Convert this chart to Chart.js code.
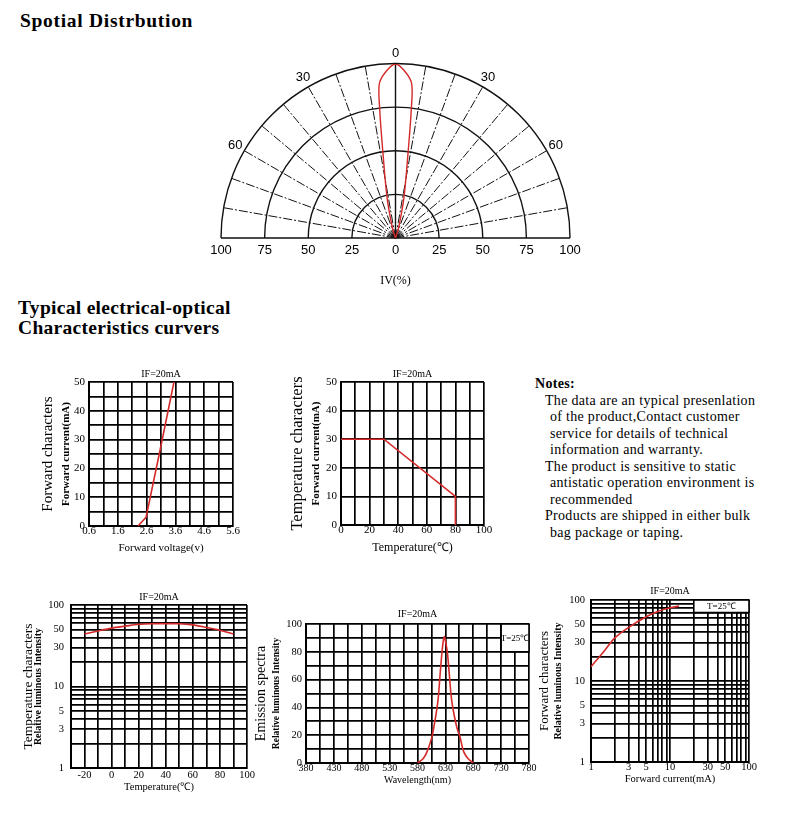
<!DOCTYPE html>
<html>
<head>
<meta charset="utf-8">
<script src="https://cdn.jsdelivr.net/npm/chart.js@4.4.1/dist/chart.umd.min.js"></script>
<style>
  body { margin: 0; background: #fff; width: 790px; height: 818px; position: relative; overflow: hidden;
         font-family: 'Liberation Serif', 'Times New Roman', serif; color: #000; }
  canvas { position: absolute; }
  .head { position: absolute; font-weight: bold; white-space: nowrap; }
  #notes { position: absolute; left: 535px; top: 376px; font-size: 14px; line-height: 16.5px; letter-spacing: 0.3px; white-space: nowrap; }
</style>
</head>
<body>
<div class="head" style="left:20px;top:11px;font-size:19.5px;line-height:20px;letter-spacing:0.7px">Spotial Distrbution</div>
<div class="head" style="left:18px;top:298px;font-size:19.5px;line-height:20px;letter-spacing:0.3px">Typical electrical-optical<br>Characteristics curvers</div>

<div id="notes">
  <div style="font-weight:bold">Notes:</div>
  <div style="padding-left:10px">The data are an typical presenlation</div>
  <div style="padding-left:15px">of the product,Contact customer</div>
  <div style="padding-left:15px">service for details of technical</div>
  <div style="padding-left:15px">information and warranty.</div>
  <div style="padding-left:10px">The product is sensitive to static</div>
  <div style="padding-left:15px">antistatic operation environment is</div>
  <div style="padding-left:15px">recommended</div>
  <div style="padding-left:10px">Products are shipped in either bulk</div>
  <div style="padding-left:15px">bag package or taping.</div>
</div>

<canvas id="polar"></canvas>
<canvas id="fwdVolt"></canvas>
<canvas id="derate"></canvas>
<canvas id="lumTemp"></canvas>
<canvas id="spectrum"></canvas>
<canvas id="lumCurrent"></canvas>

<script>
"use strict";

// Spatial distribution (angle in degrees, relative intensity %)
const polarAngles = [0, 3.4, 6, 7, 8.4, 11.7, 17, 25];
const polarIntensity = [100, 95.6, 89, 74, 49, 24, 6, 0];
const polarRings = [25, 50, 75, 100];
const polarSpokes = [10, 20, 30, 40, 50, 60, 70, 80];
const polarAngleLabels = [0, 30, 60];

// Forward voltage vs forward current
const fwdVoltage = [2.3, 2.58, 3.04, 3.55];
const fwdCurrent = [0, 3, 25, 50];
const fwdVoltGrid = [0.6, 1.1, 1.6, 2.1, 2.6, 3.1, 3.6, 4.1, 4.6, 5.1, 5.6];
const fwdVoltLabels = [0.6, 1.6, 2.6, 3.6, 4.6, 5.6];
const fwdCurrGrid = [0, 5, 10, 15, 20, 25, 30, 35, 40, 45, 50];
const fwdCurrLabels = [0, 10, 20, 30, 40, 50];

// Ambient temperature vs max forward current
const derateTemp = [0, 30, 80, 80];
const derateCurrent = [30, 30, 10, 0];
const derateTempGrid = [0, 10, 20, 30, 40, 50, 60, 70, 80, 90, 100];
const derateTempLabels = [0, 20, 40, 60, 80, 100];
const derateCurrGrid = [0, 10, 20, 30, 40, 50];

// Temperature vs relative luminous intensity
const lumTemp = [-20, -10, 0, 10, 20, 30, 40, 50, 60, 70, 80, 90];
const lumTempIntensity = [44, 48, 52, 55, 58, 59, 59, 59, 57, 53, 49, 44];
const lumTempGrid = [-30, -20, -10, 0, 10, 20, 30, 40, 50, 60, 70, 80, 90, 100];
const lumTempLabels = [-20, 0, 20, 40, 60, 80, 100];
const logGrid = [1, 2, 3, 4, 5, 6, 7, 8, 9, 10, 20, 30, 40, 50, 60, 70, 80, 90, 100];
const logLabels = [1, 3, 5, 10, 30, 50, 100];

// Emission spectrum
const spectrumWave = [580, 590, 597, 606, 612, 617, 621, 625, 628, 631, 634, 637, 641, 646, 651, 656, 663, 671, 680];
const spectrumIntensity = [0, 3, 8, 19, 32, 46, 66, 84, 91, 86, 78, 64, 46, 34, 25, 19, 8, 3, 0];
const waveGrid = [380, 405, 430, 455, 480, 505, 530, 555, 580, 605, 630, 655, 680, 705, 730, 755, 780];
const waveLabels = [380, 430, 480, 530, 580, 630, 680, 730, 780];
const relGrid = [0, 10, 20, 30, 40, 50, 60, 70, 80, 90, 100];
const relLabels = [0, 20, 40, 60, 80, 100];

// Forward current vs relative luminous intensity
const ifCurrent = [1, 1.5, 2, 3, 5, 7, 10, 13];
const ifIntensity = [15, 24, 34, 46, 62, 72, 80, 84];

const SERIF = "'Liberation Serif', 'Times New Roman', serif";
const SANS = "'Liberation Sans', Arial, sans-serif";
const RED = "#d42a2a";

Chart.defaults.color = "#000";
Chart.defaults.font.family = SERIF;

function place(id, box) {
  const c = document.getElementById(id);
  c.style.left = box[0] + "px";
  c.style.top = box[1] + "px";
  c.width = box[2];
  c.height = box[3];
  c.style.width = box[2] + "px";
  c.style.height = box[3] + "px";
  return c;
}

function fixSize(prop, v) {
  return (s) => {
    s[prop] = v;
    s.paddingLeft = s.paddingRight = s.paddingTop = s.paddingBottom = 0;
  };
}

function valueAxis(a, position) {
  const horiz = position === "bottom";
  return {
    type: a.type || "linear",
    position,
    min: a.min,
    max: a.max,
    afterBuildTicks: (s) => { s.ticks = a.grid.map((v) => ({ value: v })); },
    afterFit: fixSize(horiz ? "height" : "width", a.size),
    grid: { color: "#000", lineWidth: 1.7, drawTicks: false },
    border: { color: "#000", width: 2 },
    ticks: {
      autoSkip: false,
      maxRotation: 0,
      padding: a.tickPad,
      color: "#000",
      font: { family: SERIF, size: a.tickSize, lineHeight: 1 },
      callback: (v) => (a.labels.includes(v) ? String(v) : ""),
    },
    title: {
      display: true,
      text: a.title,
      color: "#000",
      font: { family: SERIF, size: a.titleSize, weight: horiz ? "normal" : "bold" },
      padding: horiz ? { top: 0, bottom: a.titlePad } : { top: a.titlePad, bottom: 0 },
    },
  };
}

function titleAxis(t, position) {
  return {
    type: "linear",
    position,
    weight: 1,
    grid: { display: false, drawTicks: false },
    border: { display: false },
    ticks: { display: false },
    afterFit: fixSize(position === "top" ? "height" : "width", t.size),
    title: {
      display: true,
      text: t.text,
      color: "#000",
      font: { family: SERIF, size: t.fontSize },
      padding: { top: t.pad, bottom: 0 },
    },
  };
}

function curveChart(s) {
  return new Chart(place(s.id, s.box), {
    type: "scatter",
    data: {
      datasets: [{
        data: s.xs.map((v, i) => ({ x: v, y: s.ys[i] })),
        showLine: true,
        borderColor: RED,
        borderWidth: 1.6,
        pointRadius: 0,
        tension: s.tension || 0,
      }],
    },
    options: {
      responsive: false,
      animation: false,
      layout: { padding: { left: 0, top: 0, bottom: 0, right: s.rightPad } },
      plugins: Object.assign({ legend: { display: false }, tooltip: { enabled: false } }, s.pluginOpts || {}),
      scales: {
        x: valueAxis(s.x, "bottom"),
        y: valueAxis(s.y, "left"),
        xT: titleAxis(s.top, "top"),
        yT: titleAxis(s.outer, "left"),
      },
    },
    plugins: s.plugins || [],
  });
}

// white "T=25℃" box sitting on the grid
const tempBox = {
  id: "tempBox",
  beforeDatasetsDraw(chart, args, opts) {
    const { ctx, scales: { x, y } } = chart;
    const l = x.getPixelForValue(opts.x[0]), r = x.getPixelForValue(opts.x[1]);
    const t = y.getPixelForValue(opts.y[1]), b = y.getPixelForValue(opts.y[0]);
    ctx.save();
    ctx.fillStyle = "#fff";
    ctx.fillRect(l, t, r - l, b - t);
    ctx.strokeStyle = "#000";
    ctx.lineWidth = 1.6;
    ctx.strokeRect(l, t, r - l, b - t);
    ctx.fillStyle = "#000";
    ctx.font = "9px " + SERIF;
    ctx.textAlign = "center";
    ctx.textBaseline = "middle";
    ctx.fillText(opts.text, (l + r) / 2, (t + b) / 2 + 0.5);
    ctx.restore();
  },
};

// half-circle polar grid
const polarGrid = {
  id: "polarGrid",
  beforeDatasetsDraw(chart) {
    const { ctx, scales: { x, y } } = chart;
    const cx = x.getPixelForValue(0), cy = y.getPixelForValue(0);
    const unit = (x.getPixelForValue(100) - cx) / 100;
    const rMax = polarRings[polarRings.length - 1] * unit;
    ctx.save();
    ctx.strokeStyle = "#111";
    ctx.lineWidth = 1.4;
    polarRings.forEach((r) => {
      ctx.beginPath();
      ctx.arc(cx, cy, r * unit, Math.PI, 2 * Math.PI);
      ctx.stroke();
    });
    ctx.beginPath();
    ctx.moveTo(cx - rMax, cy);
    ctx.lineTo(cx + rMax, cy);
    ctx.moveTo(cx, cy);
    ctx.lineTo(cx, cy - rMax);
    ctx.stroke();
    ctx.lineWidth = 1;
    ctx.setLineDash([9, 2, 2, 2]);
    polarSpokes.forEach((a) => [-a, a].forEach((d) => {
      const t = d * Math.PI / 180;
      ctx.beginPath();
      ctx.moveTo(cx, cy);
      ctx.lineTo(cx + rMax * Math.sin(t), cy - rMax * Math.cos(t));
      ctx.stroke();
    }));
    ctx.setLineDash([]);
    ctx.fillStyle = "#000";
    ctx.font = "13px " + SANS;
    ctx.textAlign = "center";
    ctx.textBaseline = "middle";
    const rl = 106 * unit;
    polarAngleLabels.forEach((a) => {
      const sides = a === 0 ? [0] : [-a, a];
      sides.forEach((d) => {
        const t = d * Math.PI / 180;
        ctx.fillText(String(a), cx + rl * Math.sin(t), cy - rl * Math.cos(t));
      });
    });
    ctx.restore();
  },
};

const polarPoints = [];
for (let i = polarAngles.length - 1; i >= 0; i--) {
  const t = -polarAngles[i] * Math.PI / 180;
  polarPoints.push({ x: polarIntensity[i] * Math.sin(t), y: polarIntensity[i] * Math.cos(t) });
}
for (let i = 1; i < polarAngles.length; i++) {
  const t = polarAngles[i] * Math.PI / 180;
  polarPoints.push({ x: polarIntensity[i] * Math.sin(t), y: polarIntensity[i] * Math.cos(t) });
}

new Chart(place("polar", [190, 30, 410, 270]), {
  type: "scatter",
  data: {
    datasets: [{
      data: polarPoints,
      showLine: true,
      borderColor: RED,
      borderWidth: 1.4,
      pointRadius: 0,
      tension: 0.3,
    }],
  },
  options: {
    responsive: false,
    animation: false,
    layout: { padding: { left: 31, right: 30, top: 34, bottom: 0 } },
    plugins: { legend: { display: false }, tooltip: { enabled: false } },
    scales: {
      x: {
        type: "linear",
        min: -100,
        max: 100,
        grid: { display: false, drawTicks: false },
        border: { display: false },
        afterFit: fixSize("height", 62),
        ticks: {
          stepSize: 25,
          padding: 5.5,
          color: "#000",
          font: { family: SANS, size: 13, lineHeight: 1 },
          callback: (v) => String(Math.abs(v)),
        },
        title: {
          display: true,
          text: "IV(%)",
          color: "#000",
          font: { family: SERIF, size: 12 },
          padding: { top: 0, bottom: 11.8 },
        },
      },
      y: { type: "linear", min: 0, max: 100, display: false },
    },
  },
  plugins: [polarGrid],
});

curveChart({
  id: "fwdVolt",
  box: [36, 364, 209, 194],
  rightPad: 12,
  xs: fwdVoltage,
  ys: fwdCurrent,
  outer: { text: "Forward characters", fontSize: 15, size: 20, pad: 3 },
  top: { text: "IF=20mA", fontSize: 10, size: 18, pad: 4 },
  x: { min: 0.6, max: 5.6, grid: fwdVoltGrid, labels: fwdVoltLabels, size: 32, tickPad: 0, tickSize: 11,
       title: "Forward voltage(v)", titleSize: 11, titlePad: 3.4 },
  y: { min: 0, max: 50, grid: fwdCurrGrid, labels: fwdCurrLabels, size: 33, tickPad: 4, tickSize: 11,
       title: "Forward current(mA)", titleSize: 11, titlePad: 3.9 },
});

curveChart({
  id: "derate",
  box: [286, 364, 210, 193],
  rightPad: 12,
  xs: derateTemp,
  ys: derateCurrent,
  outer: { text: "Temperature characters", fontSize: 16.5, size: 20, pad: 2.1 },
  top: { text: "IF=20mA", fontSize: 10, size: 18, pad: 4 },
  x: { min: 0, max: 100, grid: derateTempGrid, labels: derateTempLabels, size: 32, tickPad: 0, tickSize: 11,
       title: "Temperature(℃)", titleSize: 12, titlePad: 2.1 },
  y: { min: 0, max: 50, grid: derateCurrGrid, labels: derateCurrGrid, size: 35, tickPad: 4, tickSize: 11,
       title: "Forward current(mA)", titleSize: 11, titlePad: 3.1 },
});

curveChart({
  id: "lumTemp",
  box: [18, 589, 241, 208],
  rightPad: 12,
  xs: lumTemp,
  ys: lumTempIntensity,
  tension: 0.3,
  outer: { text: "Temperature characters", fontSize: 13.5, size: 14, pad: 2.2 },
  top: { text: "IF=20mA", fontSize: 10, size: 16, pad: 2.3 },
  x: { min: -30, max: 100, grid: lumTempGrid, labels: lumTempLabels, size: 29, tickPad: 2, tickSize: 10.5,
       title: "Temperature(℃)", titleSize: 10.5, titlePad: 3.7 },
  y: { type: "logarithmic", min: 1, max: 100, grid: logGrid, labels: logLabels, size: 39, tickPad: 7, tickSize: 10.5,
       title: "Relative luminous Intensity", titleSize: 10, titlePad: 0.3 },
});

curveChart({
  id: "spectrum",
  box: [252, 606, 290, 184],
  rightPad: 13,
  xs: spectrumWave,
  ys: spectrumIntensity,
  tension: 0.3,
  outer: { text: "Emission spectra", fontSize: 14, size: 16, pad: 1.3 },
  top: { text: "IF=20mA", fontSize: 10, size: 18, pad: 2 },
  x: { min: 380, max: 780, grid: waveGrid, labels: waveLabels, size: 27, tickPad: 0, tickSize: 10,
       title: "Wavelength(nm)", titleSize: 10, titlePad: 4 },
  y: { min: 0, max: 100, grid: relGrid, labels: relLabels, size: 38, tickPad: 4, tickSize: 10.5,
       title: "Relative luminous Intensity", titleSize: 9.5, titlePad: 3 },
  plugins: [tempBox],
  pluginOpts: { tempBox: { x: [730, 780], y: [80, 100], text: "T=25℃" } },
});

curveChart({
  id: "lumCurrent",
  box: [535, 584, 225, 205],
  rightPad: 11,
  xs: ifCurrent,
  ys: ifIntensity,
  tension: 0.3,
  outer: { text: "Forward characters", fontSize: 13, size: 16, pad: 2.2 },
  top: { text: "IF=20mA", fontSize: 10, size: 16, pad: 1.7 },
  x: { type: "logarithmic", min: 1, max: 100, grid: logGrid, labels: logLabels, size: 27, tickPad: 0, tickSize: 10.5,
       title: "Forward current(mA)", titleSize: 10.5, titlePad: 3.7 },
  y: { type: "logarithmic", min: 1, max: 100, grid: logGrid, labels: logLabels, size: 40, tickPad: 6, tickSize: 10.5,
       title: "Relative luminous Intensity", titleSize: 10, titlePad: 1 },
  plugins: [tempBox],
  pluginOpts: { tempBox: { x: [20, 100], y: [70, 100], text: "T=25℃" } },
});
</script>
</body>
</html>
